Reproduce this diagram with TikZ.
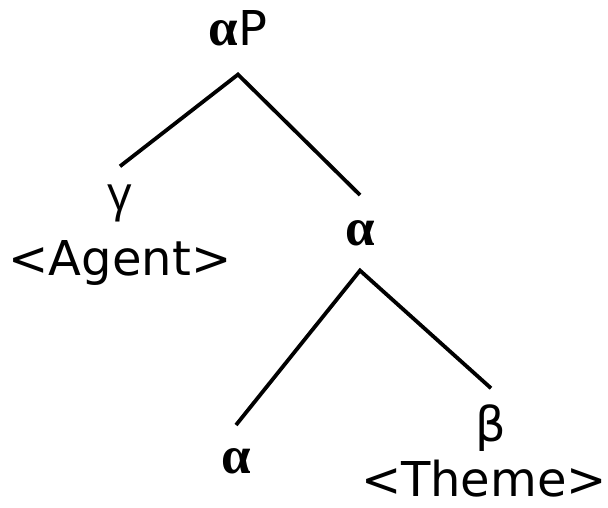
\documentclass[tikz,border=0pt]{standalone}
\usepackage{fontspec}
\setmainfont{DejaVu Sans}
\newfontfamily\greekbold{Liberation Serif}[BoldFont={* Bold}]
\newfontfamily\greeksans{Open Sans}
\usetikzlibrary{positioning}

\newcommand{\treefont}{\fontsize{48}{56}\selectfont}
\newcommand{\catalpha}{{\greekbold\bfseries\fontsize{53}{60}\selectfont α}}

\begin{document}
\begin{tikzpicture}[x=1pt, y=-1pt,
    cat/.style={inner sep=0pt, anchor=base, font=\treefont},
    branch/.style={line width=3.8pt, line join=miter}]
  \useasboundingbox (0,0) rectangle (608,508);

  % top projection and its specifier
  \node[cat, outer sep=28pt] (aP) at (238,46) {\catalpha P};
  \node[cat, outer sep=19pt] (gam) at (120,211) {\greeksans γ};
  \node[cat] (agent) at (120,275) {<Agent>};

  % the bar level and its two daughters
  \node[cat, outer sep=25pt] (a1) at (360,245) {\catalpha};
  \node[cat, outer sep=23pt] (a2) at (236,473) {\catalpha};
  \node[cat, outer sep=16pt] (bet) at (491,441) {β};
  \node[cat] (theme) at (484,496) {<Theme>};

  \draw[branch] (gam.north) -- (aP.south) -- (a1.north);
  \draw[branch] (a2.north) -- (a1.south) -- (bet.north);
\end{tikzpicture}
\end{document}
